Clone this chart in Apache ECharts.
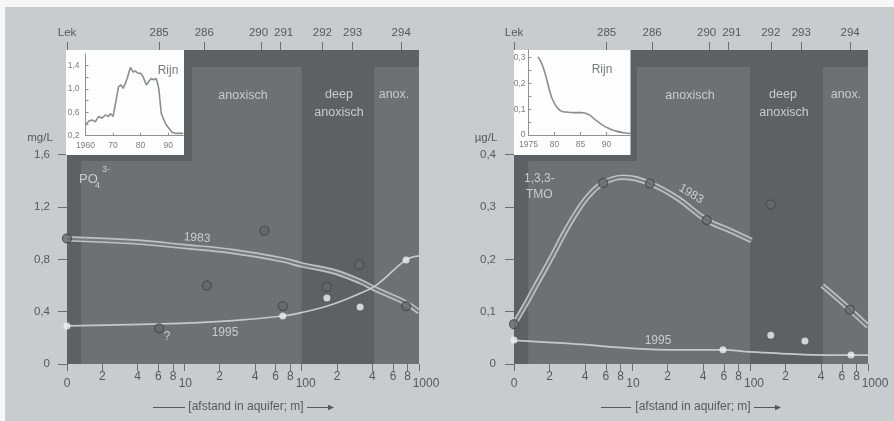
<!DOCTYPE html>
<html><head><meta charset="utf-8">
<script src="https://cdn.jsdelivr.net/npm/echarts@6/dist/echarts.min.js"></script>
<style>html,body{margin:0;padding:0;background:#fff}#c{width:894px;height:421px}</style>
</head><body><div id="c"></div>
<script>
// ---------- DATA ----------
const wellNames = ['Lek', '285', '286', '290', '291', '292', '293', '294'];
const wellDist = [1, 6.1, 14.8, 45, 65.5, 150, 272, 705];
const bottomTickValues = [1, 2, 4, 6, 8, 10, 20, 40, 60, 80, 100, 200, 400, 600, 800, 1000];
const bottomTickLabels = ['0', '2', '4', '6', '8', '10', '2', '4', '6', '8', '100', '2', '4', '6', '8', '1000'];
const zoneBounds = [1.32, 100, 415, 1000]; // anoxisch | deep anoxisch | anox.

const po4YTicks = [0, 0.4, 0.8, 1.2, 1.6];
const po4Curve1983 = [[1,0.957],[3.7,0.934],[10,0.898],[26,0.86],[69,0.796],[100,0.758],[187,0.707],[316,0.63],[437,0.567],[736,0.477],[1000,0.40]];
const po4Curve1995 = [[1,0.291],[6.2,0.306],[26,0.332],[69,0.367],[100,0.393],[187,0.459],[316,0.541],[437,0.605],[776,0.796],[1000,0.827]];
const po4Points1983 = [[1,0.96],[6.1,0.273],[15.6,0.60],[48,1.02],[69,0.443],[164,0.59],[310,0.759],[776,0.443]];
const po4Points1995 = [[1,0.29],[69,0.367],[164,0.505],[315,0.436],[776,0.795]];

const tmoYTicks = [0, 0.1, 0.2, 0.3, 0.4];
const tmoCurve1983a = [[1,0.076],[1.22,0.109],[1.57,0.154],[2.05,0.201],[2.65,0.249],[3.44,0.292],[4.3,0.322],[5.7,0.346],[8.4,0.357],[14.2,0.345],[23.9,0.318],[43,0.275],[67.7,0.255],[103,0.236]];
const tmoCurve1983b = [[410,0.150],[540,0.127],[703,0.104],[1000,0.072]];
const tmoCurve1995 = [[1,0.045],[3.4,0.038],[10,0.030],[26,0.027],[59,0.027],[100,0.023],[187,0.020],[437,0.017],[1000,0.017]];
const tmoPoints1983 = [[1,0.076],[5.7,0.346],[14.2,0.345],[43,0.275],[150,0.305],[703,0.104]];
const tmoPoints1995 = [[1,0.046],[59,0.027],[150,0.055],[292,0.044],[718,0.017]];

const rijnPO4 = [[1960,0.38],[1961.2,0.45],[1962.4,0.47],[1963.6,0.44],[1964.8,0.53],[1966,0.50],[1967.2,0.555],[1968.4,0.53],[1969,0.58],[1970,0.53],[1970.8,0.73],[1972,1.04],[1972.9,1.07],[1973.6,1.01],[1974.5,1.10],[1975.3,1.21],[1976.3,1.37],[1977.3,1.29],[1978.1,1.31],[1979,1.27],[1980,1.27],[1980.9,1.21],[1982.1,1.07],[1983,1.13],[1983.8,1.18],[1984.8,1.16],[1985.7,1.18],[1986.6,1.01],[1987.5,0.58],[1989,0.41],[1990.2,0.33],[1991.4,0.26],[1992.6,0.24],[1995.5,0.24]];
const rijnPO4XTicks = [1960, 1970, 1980, 1990];
const rijnPO4YTicks = [0.2, 0.4, 0.6, 0.8, 1.0, 1.2, 1.4];
const rijnPO4YLabels = [0.2, 0.6, 1.0, 1.4];
const rijnTMO = [[1976.8,0.303],[1977.4,0.284],[1978.1,0.245],[1978.7,0.2],[1979.3,0.155],[1980,0.123],[1981,0.097],[1982.2,0.089],[1983.9,0.087],[1985.2,0.087],[1986.5,0.08],[1987.8,0.06],[1989.1,0.04],[1990.4,0.026],[1991.7,0.016],[1993.3,0.009],[1994.6,0.006]];
const rijnTMOXTicks = [1975, 1980, 1985, 1990];
const rijnTMOYTicks = [0, 0.05, 0.1, 0.15, 0.2, 0.25, 0.3];
const rijnTMOYLabels = [0, 0.1, 0.2, 0.3];

// ---------- STYLE ----------
const FONT = "'Liberation Sans', Arial, sans-serif";
const AX_TXT = '#55595c';
const TICK = '#6a6e71';
const DARK = '#5d6164';
const MED = '#6d7174';
const IN_TXT = '#c9ccce';
const BAND_LIGHT = '#bfc2c4';
const BAND_INNER = '#767a7d';

const comma = v => String(+v.toFixed(2)).replace('.', ',');
const comma1 = v => (v === 0 ? '0' : v.toFixed(1).replace('.', ','));
const near = (arr, v) => { let b = 0; arr.forEach((a, i) => { if (Math.abs(a - v) < Math.abs(arr[b] - v)) b = i; }); return b; };
const lg = v => Math.log10(v);

const panels = [
  { left: 67, width: 352, yMax: 2.4, yTicks: po4YTicks, yMargin: 17 },
  { left: 514, width: 354, yMax: 0.6, yTicks: tmoYTicks, yMargin: 18 }
];
const TOP = 50, H = 314, BAND = 17;
const rs = o => Object.assign({ fontSize: 12, fontFamily: FONT, color: AX_TXT }, o);

const grids = [], xAxes = [], yAxes = [], series = [];
panels.forEach((p, g) => {
  grids.push({ left: p.left, top: TOP, width: p.width, height: H, show: true, backgroundColor: DARK, borderWidth: 0, outerBoundsMode: 'none' });
  // data axis (log)
  xAxes.push({ type: 'log', logBase: 10, gridIndex: g, min: 1, max: 1000, show: false });
  // bottom tick axis
  const bt = bottomTickValues.map(lg);
  xAxes.push({
    type: 'value', gridIndex: g, position: 'bottom', min: 0, max: 3,
    axisLine: { show: false }, splitLine: { show: false },
    axisTick: { show: true, customValues: bt, length: 7, lineStyle: { color: TICK } },
    axisLabel: {
      customValues: bt, margin: 7, fontSize: 12, fontFamily: FONT, color: AX_TXT,
      showMinLabel: true, showMaxLabel: true,
      formatter: v => {
        const i = near(bt, v); const d = bottomTickValues[i], t = bottomTickLabels[i];
        if (d === 1) return '{d0|' + t + '}';
        if (d === 10) return '{d10|' + t + '}';
        if (d === 100) return '{d100|' + t + '}';
        if (d === 1000) return '{d1000|' + t + '}';
        return t;
      },
      rich: {
        d0: rs({ padding: [7, 0, 0, 0] }),
        d10: rs({ padding: [7, 0, 0, 2] }),
        d100: rs({ padding: [7, 0, 0, 8] }),
        d1000: rs({ padding: [7, 0, 0, 14] })
      }
    }
  });
  // top wells axis
  const wt = wellDist.map(lg);
  xAxes.push({
    type: 'value', gridIndex: g, position: 'top', min: 0, max: 3,
    axisLine: { show: false }, splitLine: { show: false },
    axisTick: { show: true, customValues: wt, length: 8, lineStyle: { color: TICK } },
    axisLabel: {
      customValues: wt, margin: 11, fontSize: 11.5, fontFamily: FONT, color: AX_TXT,
      showMinLabel: true, showMaxLabel: true,
      formatter: v => {
        const n = wellNames[near(wt, v)];
        if (n === '290') return '{l|' + n + '}';
        if (n === '291') return '{r|' + n + '}';
        return n;
      },
      rich: {
        l: rs({ fontSize: 11.5, padding: [0, 5, 0, 0] }),
        r: rs({ fontSize: 11.5, padding: [0, 0, 0, 7] })
      }
    }
  });
  yAxes.push({
    type: 'value', gridIndex: g, min: 0, max: p.yMax,
    axisLine: { show: false }, splitLine: { show: false },
    axisTick: { show: true, customValues: p.yTicks, length: 9, lineStyle: { color: TICK } },
    axisLabel: { customValues: p.yTicks, margin: p.yMargin, fontSize: 11.5, fontFamily: FONT, color: AX_TXT, formatter: comma, showMinLabel: true, showMaxLabel: true }
  });
  const xi = g * 3, yi = g;
  const yTopBand = p.yMax * (1 - BAND / H);
  series.push({
    type: 'line', xAxisIndex: xi, yAxisIndex: yi, data: [], silent: true, z: 1,
    markArea: {
      silent: true, itemStyle: { color: MED },
      data: [
        [{ xAxis: zoneBounds[0], yAxis: 0 }, { xAxis: zoneBounds[1], yAxis: yTopBand }],
        [{ xAxis: zoneBounds[2], yAxis: 0 }, { xAxis: zoneBounds[3], yAxis: yTopBand }]
      ]
    }
  });
});

function band(data, xi, yi) {
  series.push({ type: 'line', xAxisIndex: xi, yAxisIndex: yi, data, smooth: 0.4, showSymbol: false, silent: true, z: 3,
    lineStyle: { width: 5.5, color: BAND_LIGHT } });
  series.push({ type: 'line', xAxisIndex: xi, yAxisIndex: yi, data, smooth: 0.4, showSymbol: false, silent: true, z: 4,
    lineStyle: { width: 2.2, color: BAND_INNER } });
}
function thin(data, xi, yi) {
  series.push({ type: 'line', xAxisIndex: xi, yAxisIndex: yi, data, smooth: 0.4, showSymbol: false, silent: true, z: 4,
    lineStyle: { width: 1.7, color: '#c6c9cb' } });
}
function dots(data, xi, yi, white) {
  series.push({ type: 'scatter', xAxisIndex: xi, yAxisIndex: yi, data, silent: true, z: 6, clip: false,
    symbolSize: white ? 7 : 9,
    itemStyle: white ? { color: '#f0f1f2' } : { color: '#65696c', borderColor: '#45484b', borderWidth: 1.3 } });
}
band(po4Curve1983, 0, 0); thin(po4Curve1995, 0, 0);
dots(po4Points1983, 0, 0, false); dots(po4Points1995, 0, 0, true);
band(tmoCurve1983a, 3, 1); band(tmoCurve1983b, 3, 1); thin(tmoCurve1995, 3, 1);
dots(tmoPoints1983, 3, 1, false); dots(tmoPoints1995, 3, 1, true);

// ---------- INSETS ----------
const insets = [
  { left: 85.5, top: 54, width: 97.8, height: 81.7, xMin: 1960, xMax: 1995.5, yMin: 0.2, yMax: 1.6,
    xt: rijnPO4XTicks, yt: rijnPO4YTicks, yl: rijnPO4YLabels, data: rijnPO4, smooth: false, yMargin: 6 },
  { left: 528.5, top: 50, width: 102, height: 85, xMin: 1975, xMax: 1994.6, yMin: 0, yMax: 0.33,
    xt: rijnTMOXTicks, yt: rijnTMOYTicks, yl: rijnTMOYLabels, data: rijnTMO, smooth: 0.5, yMargin: 3 }
];
insets.forEach((s, k) => {
  const g = grids.length;
  grids.push({ left: s.left, top: s.top, width: s.width, height: s.height, z: 20, outerBoundsMode: 'none' });
  const xi = xAxes.length, yi = yAxes.length;
  xAxes.push({ type: 'value', gridIndex: g, min: s.xMin, max: s.xMax, z: 20,
    axisLine: { show: true, lineStyle: { color: '#8f9294', width: 1 } }, splitLine: { show: false },
    axisTick: { show: true, inside: true, length: 3, customValues: s.xt, lineStyle: { color: '#8f9294' } },
    axisLabel: { customValues: s.xt, margin: 5, fontSize: 8.5, fontFamily: FONT, color: '#7a7d80',
      formatter: v => (v === s.xMin ? String(v) : String(v).slice(2)) } });
  yAxes.push({ type: 'value', gridIndex: g, min: s.yMin, max: s.yMax, z: 20,
    axisLine: { show: true, lineStyle: { color: '#8f9294', width: 1 } }, splitLine: { show: false },
    axisTick: { show: true, inside: true, length: 3, customValues: s.yt, lineStyle: { color: '#8f9294' } },
    axisLabel: { customValues: s.yl, margin: s.yMargin, fontSize: 8.5, fontFamily: FONT, color: '#7a7d80', formatter: comma1 } });
  series.push({ type: 'line', xAxisIndex: xi, yAxisIndex: yi, data: s.data, smooth: s.smooth, showSymbol: false, silent: true, z: 21,
    lineStyle: { width: 1.6, color: '#8b8e90' } });
});

// ---------- ANNOTATIONS ----------
function T(x, y, text, o) {
  o = o || {};
  return { type: 'text', x, y, z: 30, rotation: o.rot || 0,
    style: { text, fill: o.fill || IN_TXT, fontSize: o.size || 12.5, fontFamily: FONT,
      align: o.align || 'center', verticalAlign: 'middle' } };
}
const graphics = [
  { type: 'rect', shape: { x: 0, y: 0, width: 894, height: 7 }, style: { fill: '#f7f7f7' }, z: 0 },
  { type: 'rect', shape: { x: 0, y: 0, width: 5, height: 421 }, style: { fill: '#f7f7f7' }, z: 0 },
  // inset frames
  { type: 'rect', shape: { x: 67, y: 50, width: 125, height: 111 }, style: { fill: DARK }, z: 10 },
  { type: 'rect', shape: { x: 66, y: 50, width: 118, height: 105 }, style: { fill: '#fdfdfd' }, z: 11 },
  { type: 'rect', shape: { x: 514, y: 50, width: 123, height: 111 }, style: { fill: DARK }, z: 10 },
  { type: 'rect', shape: { x: 514, y: 50, width: 116.5, height: 105 }, style: { fill: '#fdfdfd' }, z: 11 },
  T(168, 71, 'Rijn', { fill: '#777a7c', size: 12 }),
  T(602, 70, 'Rijn', { fill: '#777a7c', size: 12 }),
  // zone labels
  T(243, 96, 'anoxisch'), T(339, 95, 'deep'), T(339, 113, 'anoxisch'), T(394, 95, 'anox.'),
  T(690, 96, 'anoxisch'), T(783, 95, 'deep'), T(784, 113, 'anoxisch'), T(846, 95, 'anox.'),
  // substance labels
  T(79, 179, 'PO', { align: 'left', size: 13 }), T(97.5, 186, '4', { size: 9 }), T(106, 170, '3-', { size: 9 }),
  T(524, 179, '1,3,3-', { align: 'left', size: 12 }), T(526, 195, 'TMO', { align: 'left', size: 12 }),
  // curve labels
  T(197, 238, '1983', { rot: -0.07, size: 12 }), T(225, 333, '1995', { size: 12 }), T(167, 337, '?', { size: 12 }),
  T(691, 194, '1983', { rot: -0.55, size: 12 }), T(658, 341, '1995', { size: 12 }),
  // units
  T(40, 138, 'mg/L', { fill: AX_TXT, size: 11.5 }), T(486, 138, 'µg/L', { fill: AX_TXT, size: 11.5 }),
  // x axis names
  T(246, 407, '[afstand in aquifer; m]', { fill: AX_TXT, size: 12 }),
  T(693, 407, '[afstand in aquifer; m]', { fill: AX_TXT, size: 12 })
];
[[153, 185, 307, 333], [601, 631, 754, 780]].forEach(a => {
  graphics.push({ type: 'line', shape: { x1: a[0], y1: 407.5, x2: a[1], y2: 407.5 }, style: { stroke: AX_TXT, lineWidth: 1 }, z: 30 });
  graphics.push({ type: 'line', shape: { x1: a[2], y1: 407.5, x2: a[3] - 3, y2: 407.5 }, style: { stroke: AX_TXT, lineWidth: 1 }, z: 30 });
  graphics.push({ type: 'polygon', shape: { points: [[a[3] + 1, 407.5], [a[3] - 5, 404.8], [a[3] - 5, 410.2]] }, style: { fill: AX_TXT }, z: 30 });
});

const chart = echarts.init(document.getElementById('c'));
chart.setOption({
  backgroundColor: '#c9ccce',
  animation: false,
  grid: grids, xAxis: xAxes, yAxis: yAxes, series, graphic: graphics
});
</script></body></html>
